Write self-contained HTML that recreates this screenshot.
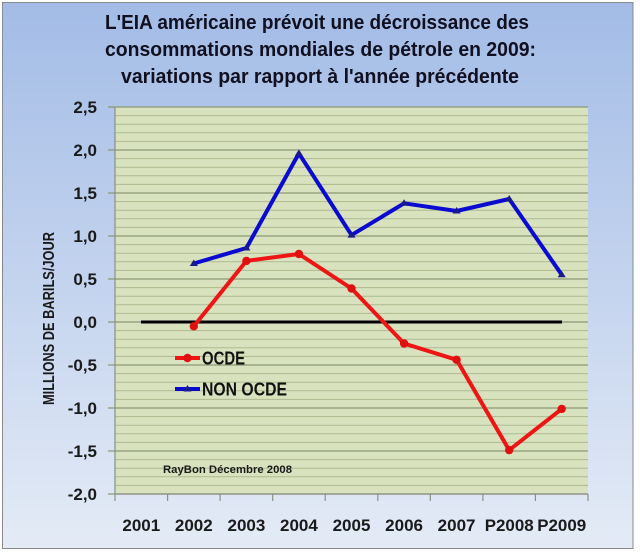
<!DOCTYPE html>
<html>
<head>
<meta charset="utf-8">
<style>
  html,body{margin:0;padding:0;background:#ffffff;}
  svg{display:block;}
  text{font-family:"Liberation Sans",Arial,sans-serif;font-weight:bold;}
</style>
</head>
<body>
<svg width="640" height="552" viewBox="0 0 640 552" xmlns="http://www.w3.org/2000/svg">
  <defs>
    <linearGradient id="bg" x1="0" y1="0" x2="0" y2="1">
      <stop offset="0" stop-color="#a3bce6"/>
      <stop offset="0.5" stop-color="#c3d3ee"/>
      <stop offset="1" stop-color="#e4ebf6"/>
    </linearGradient>
  </defs>
  <rect x="0" y="0" width="640" height="552" fill="#ffffff"/>
  <rect x="2.5" y="2.5" width="630.5" height="546" fill="url(#bg)" stroke="#8a8a8a" stroke-width="1"/>

  <!-- Title -->
  <text x="317" y="29" font-size="20" fill="#101020" text-anchor="middle" textLength="424" lengthAdjust="spacingAndGlyphs">L'EIA américaine prévoit une décroissance des</text>
  <text x="320.5" y="56" font-size="20" fill="#101020" text-anchor="middle" textLength="431" lengthAdjust="spacingAndGlyphs">consommations mondiales de pétrole en 2009:</text>
  <text x="320" y="83" font-size="20" fill="#101020" text-anchor="middle" textLength="398" lengthAdjust="spacingAndGlyphs">variations par rapport à l'année précédente</text>

  <!-- Plot area -->
  <rect x="115" y="107" width="473" height="387" fill="#d9e2be"/>
  <!-- minor gridlines -->
  <path stroke="#aeb98f" stroke-width="1" fill="none" d="
    M115 115.6H588M115 124.2H588M115 132.8H588M115 141.4H588
    M115 158.6H588M115 167.2H588M115 175.8H588M115 184.4H588
    M115 201.6H588M115 210.2H588M115 218.8H588M115 227.4H588
    M115 244.6H588M115 253.2H588M115 261.8H588M115 270.4H588
    M115 287.6H588M115 296.2H588M115 304.8H588M115 313.4H588
    M115 330.6H588M115 339.2H588M115 347.8H588M115 356.4H588
    M115 373.6H588M115 382.2H588M115 390.8H588M115 399.4H588
    M115 416.6H588M115 425.2H588M115 433.8H588M115 442.4H588
    M115 459.6H588M115 468.2H588M115 476.8H588M115 485.4H588"/>
  <!-- major gridlines + y ticks -->
  <path stroke="#8b9875" stroke-width="1.2" fill="none" d="
    M108 107H588M108 150H588M108 193H588M108 236H588M108 279H588
    M108 322H588M108 365H588M108 408H588M108 451H588M108 494H588"/>
  <!-- axes -->
  <path stroke="#8a8f86" stroke-width="1.2" fill="none" d="M115 107V494"/>
  <path stroke="#8a8f86" stroke-width="1.2" fill="none" d="M115 494H588
    M115 494V501M167.6 494V501M220.1 494V501M272.7 494V501M325.2 494V501
    M377.8 494V501M430.3 494V501M482.9 494V501M535.4 494V501M588 494V501"/>

  <!-- Y labels -->
  <g font-size="17" fill="#1a1a1a" text-anchor="end">
    <text x="97" y="113">2,5</text>
    <text x="97" y="156">2,0</text>
    <text x="97" y="199">1,5</text>
    <text x="97" y="242">1,0</text>
    <text x="97" y="285">0,5</text>
    <text x="97" y="328">0,0</text>
    <text x="97" y="371">-0,5</text>
    <text x="97" y="414">-1,0</text>
    <text x="97" y="457">-1,5</text>
    <text x="97" y="500">-2,0</text>
  </g>

  <!-- Y axis title -->
  <text x="0" y="0" font-size="16" fill="#1a1a1a" text-anchor="middle" transform="translate(54,318.5) rotate(-90)" textLength="173" lengthAdjust="spacingAndGlyphs">MILLIONS DE BARILS/JOUR</text>

  <!-- X labels -->
  <g font-size="17" fill="#1a1a1a" text-anchor="middle">
    <text x="141.3" y="531">2001</text>
    <text x="193.8" y="531">2002</text>
    <text x="246.4" y="531">2003</text>
    <text x="298.9" y="531">2004</text>
    <text x="351.5" y="531">2005</text>
    <text x="404.1" y="531">2006</text>
    <text x="456.6" y="531">2007</text>
    <text x="509.2" y="531" textLength="49" lengthAdjust="spacingAndGlyphs">P2008</text>
    <text x="561.7" y="531" textLength="49" lengthAdjust="spacingAndGlyphs">P2009</text>
  </g>

  <!-- zero line -->
  <line x1="141" y1="322" x2="562" y2="322" stroke="#000000" stroke-width="3"/>

  <!-- NON OCDE series -->
  <polyline fill="none" stroke="#0a0ad0" stroke-width="4" stroke-linejoin="round" stroke-linecap="round"
    points="193.8,263.5 246.4,248 298.9,153.4 351.5,235.1 404.1,203.3 456.6,211 509.2,199 561.7,274.7"/>
  <g fill="#1a1a8a">
    <polygon points="193.8,259.5 197.8,266 189.8,266"/>
    <polygon points="246.4,244 250.4,250.5 242.4,250.5"/>
    <polygon points="298.9,149.4 302.9,155.9 294.9,155.9"/>
    <polygon points="351.5,231.1 355.5,237.6 347.5,237.6"/>
    <polygon points="404.1,199.3 408.1,205.8 400.1,205.8"/>
    <polygon points="456.6,207 460.6,213.5 452.6,213.5"/>
    <polygon points="509.2,195 513.2,201.5 505.2,201.5"/>
    <polygon points="561.7,270.7 565.7,277.2 557.7,277.2"/>
  </g>

  <!-- OCDE series -->
  <polyline fill="none" stroke="#ee1515" stroke-width="4" stroke-linejoin="round" stroke-linecap="round"
    points="193.8,326.3 246.4,260.9 298.9,254 351.5,288.5 404.1,343.5 456.6,359.8 509.2,450.1 561.7,408.9"/>
  <g fill="#e01010">
    <circle cx="193.8" cy="326.3" r="4.2"/>
    <circle cx="246.4" cy="260.9" r="4.2"/>
    <circle cx="298.9" cy="254" r="4.2"/>
    <circle cx="351.5" cy="288.5" r="4.2"/>
    <circle cx="404.1" cy="343.5" r="4.2"/>
    <circle cx="456.6" cy="359.8" r="4.2"/>
    <circle cx="509.2" cy="450.1" r="4.2"/>
    <circle cx="561.7" cy="408.9" r="4.2"/>
  </g>

  <!-- Legend -->
  <line x1="175" y1="358" x2="200" y2="358" stroke="#ee1515" stroke-width="4"/>
  <circle cx="187.5" cy="358" r="4.2" fill="#e01010"/>
  <text x="202" y="364.5" font-size="18" fill="#111" textLength="43" lengthAdjust="spacingAndGlyphs">OCDE</text>
  <line x1="175" y1="389" x2="200" y2="389" stroke="#0a0ad0" stroke-width="4"/>
  <polygon points="187.5,385 191.5,391.5 183.5,391.5" fill="#1a1a8a"/>
  <text x="202" y="395.5" font-size="18" fill="#111" textLength="85" lengthAdjust="spacingAndGlyphs">NON OCDE</text>

  <!-- credit -->
  <text x="163" y="473" font-size="11" fill="#1a1a1a" textLength="129" lengthAdjust="spacingAndGlyphs">RayBon Décembre 2008</text>
</svg>
</body>
</html>
